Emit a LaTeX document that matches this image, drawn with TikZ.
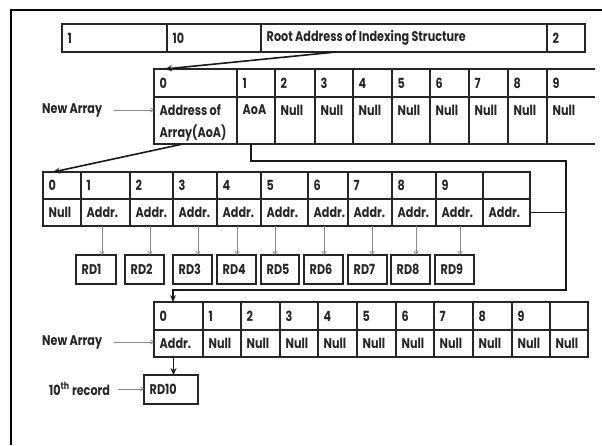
\documentclass[tikz,border=0pt]{standalone}
\usepackage{fontspec}
\setmainfont{Poppins}[FakeStretch=0.8]
\usetikzlibrary{arrows.meta,calc}
\newcommand{\cell}[8][]{%
  \node[cellbox,#1,minimum width={#5pt-#3pt},minimum height={#6pt-#4pt},anchor=north west] (#2) at (#3,#4) {};
  \node[celltext,anchor=west] (#2-t) at ($(#3,#7)+(5.5,0)$) {#8};
}
\begin{document}
\begin{tikzpicture}[x=1pt,y=-1pt,
  cellbox/.style={draw=black!85,line width=1.1pt,inner sep=0pt,outer sep=0pt},
  celltext/.style={inner sep=0pt,font=\fontsize{14}{16}\selectfont\bfseries,text=black!85},
  lbl/.style={inner sep=0pt,font=\fontsize{14}{16}\selectfont\bfseries,text=black!85},
  blk/.style={draw=black!90,line width=1.6pt},
  blkarrow/.style={blk,-{Stealth[length=7pt,width=6pt]}},
  grayarrow/.style={draw=black!45,line width=0.8pt,-{Straight Barb[length=3pt,width=4pt]}},
  open/.style={draw=none}]
\useasboundingbox (0,0) rectangle (602,445);
\draw[line width=1.5pt,black] (11,445) -- (11,10) -- (602,10);

% top row
\cell{t1}{62}{24}{167}{52}{38}{1}
\cell{t2}{167}{24}{261}{52}{38}{10}
\cell{t3}{261}{24}{547}{52}{38}{Root Address of Indexing Structure}
\cell{t4}{547}{24}{585}{52}{38}{2}

% array 1
\cell{a0h}{154}{69}{237}{97}{83}{0}
\cell{a0r}{154}{97}{237}{144}{110}{Address of}
\node[celltext,anchor=west] (a0r-t2) at (159.5,133) {Array(AoA)};
\foreach \i/\xa/\xb/\rw in {1/237/275/AoA,2/275/315/Null,3/315/353/Null,4/353/392/Null,5/392/430/Null,6/430/469/Null,7/469/508/Null,8/508/547/Null}{
  \cell{a\i h}{\xa}{69}{\xb}{97}{83}{\i}
  \cell{a\i r}{\xa}{97}{\xb}{144}{110}{\rw}
}
\cell[open]{a9h}{547}{69}{595}{97}{83}{9}
\cell[open]{a9r}{547}{97}{595}{144}{110}{Null}
\draw[draw=black!85,line width=1.1pt] (a9h.north west) -- (a9h.north east)
  (a9h.south west) -- (a9h.south east) (a9r.south west) -- (a9r.south east);

% array 2
\cell{b0h}{43}{172}{81}{199}{185.5}{0}
\cell{b0r}{43}{199}{81}{226}{212.5}{Null}
\foreach \i/\xa/\xb in {1/81/130,2/130/173,3/173/217,4/217/261,5/261/308,6/308/348,7/348/392,8/392/436,9/436/483}{
  \cell{b\i h}{\xa}{172}{\xb}{199}{185.5}{\i}
  \cell{b\i r}{\xa}{199}{\xb}{226}{212.5}{Addr.}
}
\cell{b10h}{483}{172}{530}{199}{185.5}{}
\cell{b10r}{483}{199}{530}{226}{212.5}{Addr.}

% records
\foreach \i/\xa/\xb/\ax in {1/76/116/102,2/125/164/150,3/173/212/198,4/217/256/237,5/261/299/275,6/304/343/324,7/348/387/372,8/391/430/416,9/435/474/460}{
  \cell{rd\i}{\xa}{255}{\xb}{284}{269.5}{RD\i}
  \coordinate (ax\i) at (\ax,0);
  \draw[grayarrow] (b\i r.south -| ax\i) -- (rd\i.north -| ax\i);
}

% array 3
\cell{c0h}{154}{302}{203}{330}{316}{0}
\cell{c0r}{154}{330}{203}{357}{343.5}{Addr.}
\foreach \i/\xa/\xb in {1/203/241,2/241/280,3/280/318,4/318/357,5/357/396,6/396/434,7/434/473,8/473/512,9/512/550}{
  \cell{c\i h}{\xa}{302}{\xb}{330}{316}{\i}
  \cell{c\i r}{\xa}{330}{\xb}{357}{343.5}{Null}
}
\cell{c10h}{550}{302}{588}{330}{316}{}
\cell{c10r}{550}{330}{588}{357}{343.5}{Null}

\cell{rd10}{144}{375}{198}{404}{389.5}{RD10}

% labels
\node[lbl,anchor=west] (na1) at (42,110) {New Array};
\node[lbl,anchor=west] (na2) at (42,342) {New Array};
\node[lbl,anchor=west] (rec) at (49,389) {10\textsuperscript{th} record};
\draw[grayarrow] ([xshift=12pt]na1.east) -- (a0r.west |- na1.east);
\draw[grayarrow] ([xshift=12pt]na2.east) -- (c0r.west |- na2.east);
\draw[grayarrow] ([xshift=8pt]rec.east) -- (rd10.west |- rec.east);

% black connectors
\draw[blkarrow] ($(t3.south west)+(75,0)$) -- ($(a0h.north west)+(11,0)$);
\draw[blkarrow] ($(a0r.south west)+(29,0)$) -- ($(b0h.north west)+(10,0)$);
\coordinate (r1) at (566,161);
\coordinate (r2) at (566,290);
\draw[blkarrow] ([xshift=-5pt]a1r.south) |- (r1) -- (r2) -| ([xshift=19pt]c0h.north west);
\draw[blk] (b10r.east) -- (b10r.east -| r1);
\draw[blkarrow] ([xshift=-5pt]c0r.south) -- ([xshift=-5pt]c0r.south |- rd10.north);
\end{tikzpicture}
\end{document}
